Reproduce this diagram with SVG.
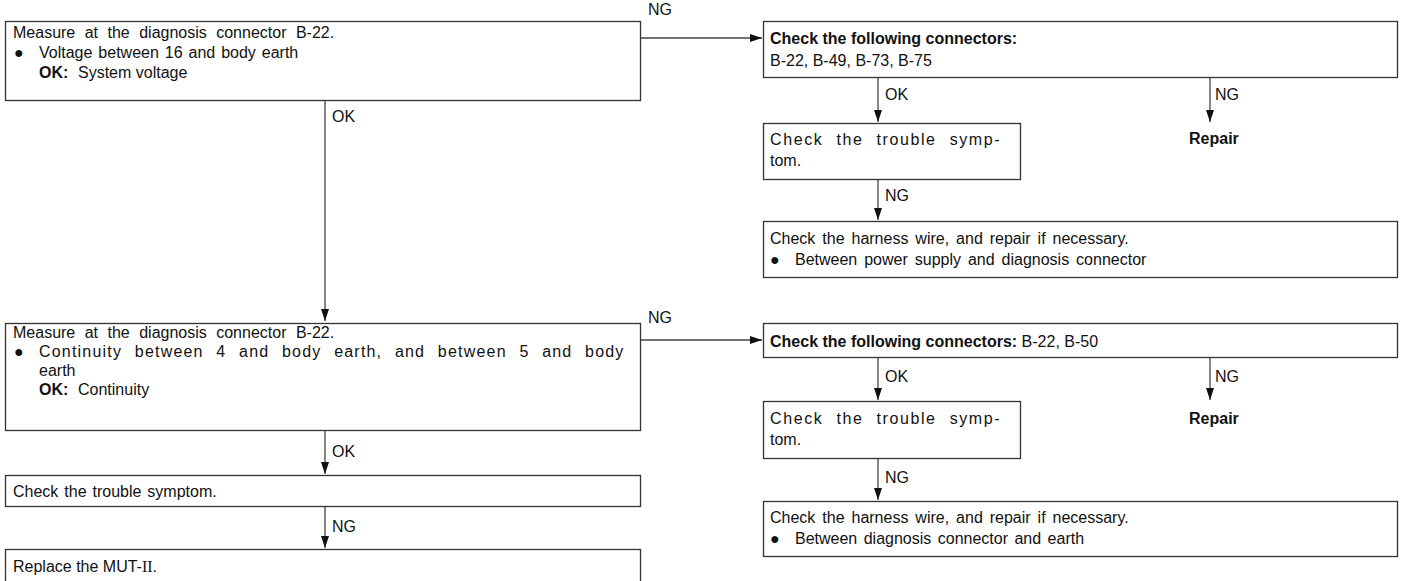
<svg xmlns="http://www.w3.org/2000/svg" width="1408" height="581" viewBox="0 0 1408 581">
<defs>
<marker id="ah" markerWidth="12" markerHeight="8" refX="12" refY="4" orient="auto" markerUnits="userSpaceOnUse">
<path d="M0,0 L12,4 L0,8 Z" fill="#111"/>
</marker>
<style>
.box{fill:#fff;stroke:#333;stroke-width:1.3}
.t{font-family:"Liberation Sans",Arial,sans-serif;font-size:16px;fill:#111}
.b{font-weight:bold}
.c{stroke:#444;stroke-width:1.3;fill:none;marker-end:url(#ah)}
.j1{letter-spacing:1.6px;word-spacing:7px}
.j2{letter-spacing:1.2px;word-spacing:7px}
</style>
</defs>
<rect width="1408" height="581" fill="#fff"/>
<g id="connectors">
<path class="c" d="M640,38 H762"/>
<path class="c" d="M325,100 V321"/>
<path class="c" d="M878,77 V122"/>
<path class="c" d="M1210,77 V122"/>
<path class="c" d="M878,179 V220"/>
<path class="c" d="M640,340 H762"/>
<path class="c" d="M878,357 V400"/>
<path class="c" d="M1210,357 V400"/>
<path class="c" d="M878,459 V500"/>
<path class="c" d="M325,430 V474"/>
<path class="c" d="M325,506 V548"/>
<text class="t" x="648" y="15">NG</text>
<text class="t" x="332" y="122">OK</text>
<text class="t" x="885" y="100">OK</text>
<text class="t" x="1215" y="100">NG</text>
<text class="t" x="885" y="201">NG</text>
<text class="t" x="648" y="323">NG</text>
<text class="t" x="885" y="382">OK</text>
<text class="t" x="1215" y="382">NG</text>
<text class="t" x="885" y="483">NG</text>
<text class="t" x="332" y="457">OK</text>
<text class="t" x="332" y="532">NG</text>
</g>
<g id="n1">
<rect class="box" x="5.5" y="21.5" width="635" height="79"/>
<text class="t" x="13" y="38" word-spacing="5">Measure at the diagnosis connector B-22.</text>
<text class="t" x="14" y="58">●</text>
<text class="t" x="39" y="58" word-spacing="1.5">Voltage between 16 and body earth</text>
<text class="t b" x="39" y="78">OK:</text>
<text class="t" x="78" y="78">System voltage</text>
</g>
<g id="n2">
<rect class="box" x="763.5" y="21.5" width="634" height="56"/>
<text class="t b" x="770" y="44">Check the following connectors:</text>
<text class="t" x="770" y="66">B-22, B-49, B-73, B-75</text>
</g>
<g id="n3">
<rect class="box" x="763.5" y="123.5" width="257" height="56"/>
<text class="t j1" x="770" y="145">Check the trouble symp-</text>
<text class="t" x="770" y="166">tom.</text>
</g>
<g id="n4">
<text class="t b" x="1189" y="144">Repair</text>
</g>
<g id="n5">
<rect class="box" x="763.5" y="221.5" width="634" height="56"/>
<text class="t" x="770" y="244" word-spacing="2.5">Check the harness wire, and repair if necessary.</text>
<text class="t" x="770" y="265">●</text>
<text class="t" x="795" y="265" word-spacing="2.5">Between power supply and diagnosis connector</text>
</g>
<g id="n6">
<rect class="box" x="5.5" y="323.5" width="635" height="107"/>
<text class="t" x="13" y="338" word-spacing="5">Measure at the diagnosis connector B-22.</text>
<text class="t" x="14" y="357">●</text>
<text class="t j2" x="39" y="357">Continuity between 4 and body earth, and between 5 and body</text>
<text class="t" x="39" y="376">earth</text>
<text class="t b" x="39" y="395">OK:</text>
<text class="t" x="78" y="395">Continuity</text>
</g>
<g id="n7">
<rect class="box" x="763.5" y="323.5" width="634" height="34"/>
<text class="t" x="770" y="347"><tspan class="b">Check the following connectors:</tspan> B-22, B-50</text>
</g>
<g id="n8">
<rect class="box" x="763.5" y="401.5" width="257" height="57"/>
<text class="t j1" x="770" y="424">Check the trouble symp-</text>
<text class="t" x="770" y="445">tom.</text>
</g>
<g id="n9">
<text class="t b" x="1189" y="424">Repair</text>
</g>
<g id="n10">
<rect class="box" x="763.5" y="501.5" width="634" height="55"/>
<text class="t" x="770" y="523" word-spacing="2.5">Check the harness wire, and repair if necessary.</text>
<text class="t" x="770" y="544">●</text>
<text class="t" x="795" y="544" word-spacing="2">Between diagnosis connector and earth</text>
</g>
<g id="n11">
<rect class="box" x="5.5" y="475.5" width="635" height="31"/>
<text class="t" x="13" y="497" word-spacing="1.5">Check the trouble symptom.</text>
</g>
<g id="n12">
<rect class="box" x="5.5" y="549.5" width="635" height="40"/>
<text class="t" x="13" y="572">Replace the MUT-<tspan font-family="'Liberation Serif',serif">II</tspan>.</text>
</g>
</svg>
